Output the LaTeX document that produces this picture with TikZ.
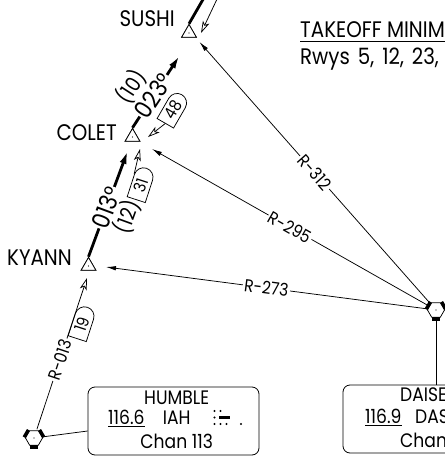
\documentclass[tikz,border=0pt]{standalone}
\usepackage{fontspec}
\setmainfont{Poppins}[FakeStretch=0.88]
\usetikzlibrary{shapes.geometric,shapes.misc,arrows.meta}
\newcommand\fFix{\fontsize{22.5}{23}\selectfont}
\newcommand\fCrs{\fontsize{24.5}{25}\selectfont}
\newcommand\fDst{\fontsize{21}{22}\selectfont}
\newcommand\fRad{\fontsize{17.5}{18}\selectfont}
\newcommand\fDme{\fontsize{16.5}{17}\selectfont}
\newcommand\fBox{\fontsize{19.5}{20}\selectfont}
\begin{document}
\begin{tikzpicture}[x=1pt,y=-1pt,
  thinln/.style={line width=0.75pt},
  boldln/.style={line width=2.8pt},
  fixpt/.style={regular polygon, regular polygon sides=3, draw, line width=0.75pt, fill=white, minimum size=17pt, inner sep=0pt},
  fixlbl/.style={font=\fFix, inner sep=0pt, anchor=east},
  radarr/.style={thinln, -{Latex[length=10pt,width=4.5pt]}},
  openarr/.style={thinln, -{Stealth[open,length=12pt,width=7pt,inset=3pt]}},
  boldarr/.style={boldln, -{Latex[length=14pt,width=7pt]}},
  rlabel/.style={font=\fRad, fill=white, inner sep=1.5pt, sloped},
  crs/.style={font=\fCrs, fill=white, inner sep=1pt, sloped},
  dst/.style={font=\fDst, inner sep=0pt},
  dme/.style={draw, line width=0.75pt, rounded rectangle, rounded rectangle west arc=none, minimum height=19pt, minimum width=35pt, inner sep=1pt, font=\fDme, fill=white},
  vorlink/.style={circle, minimum size=18pt, inner sep=0pt},
  vbox/.style={draw, line width=0.8pt, rounded corners=7pt, inner sep=0pt},
  btxt/.style={font=\fBox, inner sep=0pt},
  vortac/.pic={
    \filldraw[fill=white, line width=0.75pt] (0:8.5pt) -- (60:8.5pt) -- (120:8.5pt) -- (180:8.5pt) -- (240:8.5pt) -- (300:8.5pt) -- cycle;
    \foreach \a in {30,150,270}{\fill[rotate=\a] (7.36pt,-4.25pt) rectangle (10.6pt,4.25pt);}
    \fill (0pt,0pt) circle (0.6pt);
  }
]
\useasboundingbox (0,0) rectangle (445,456);

% navaid boxes
\node[vbox, minimum width=171pt, minimum height=68pt] (humbox) at (173.5,421) {};
\node[vbox, minimum width=198pt, minimum height=68pt] (daibox) at (442,419) {};
\node[vorlink] (humvor) at (34,438) {};
\node[vorlink] (daivor) at (436,310) {};

% box texts
\node[btxt, anchor=base] (hname) at (176.7,404) {HUMBLE};
\node[btxt, anchor=base west] (hfreq) at (108,424.5) {116.6};
\node[btxt, anchor=base] (hid) at (176.7,424.5) {IAH};
\node[btxt, anchor=base] (hchan) at (176.7,448.5) {Chan 113};
\draw[line width=0.8pt] ([yshift=-2pt]hfreq.base west) -- ([yshift=-2pt]hfreq.base east);
\node[btxt, anchor=base west] (dname) at (400,401) {DAISETTA};
\node[btxt, anchor=base west] (dfreq) at (365,423.5) {116.9};
\node[btxt, anchor=base west] (did) at (415,423.5) {DAS};
\node[btxt, anchor=base west] (dchan) at (400,447.5) {Chan};
\draw[line width=0.8pt] ([yshift=-2pt]dfreq.base west) -- ([yshift=-2pt]dfreq.base east);

% morse IAH
\foreach \p in {(214.5,411),(220.5,411),(214.5,417.5),(214.5,424),(220.5,424),(226.5,424),(241,424)}
  \fill \p circle (1.2pt);
\fill (218.5,416.3) rectangle (230,418.8);

% takeoff minimums
\node[anchor=base west, inner sep=0pt, font=\fFix] (tko) at (300,37) {TAKEOFF MINIMUMS};
\draw[line width=0.9pt] ([yshift=-4pt]tko.base west) -- ([yshift=-4pt]tko.base east);
\node[anchor=base west, inner sep=0pt, font=\fFix] (rwys) at (300,64) {Rwys\hspace{8pt}5,\hspace{8pt}12,\hspace{8pt}23,};

% fixes
\coordinate (sTop) at (205,-4);
\coordinate (inTail) at (218,-3);
\coordinate (inTip) at (201,33);
\coordinate (t10) at (180,55);
\coordinate (t12) at (128,150);
\coordinate (t312) at (199.5,42);
\coordinate (t295) at (152,149);
\coordinate (t273) at (106,267);
\coordinate (t013) at (87,278);
\coordinate (t48) at (148,137);
\coordinate (t31) at (140,149);

\node[fixpt] (sushi) at (189,33) {};
\node[fixpt] (colet) at (132.5,137) {};
\node[fixpt] (kyann) at (88.5,266) {};
\node[fixlbl] (sushil) at (175,19) {SUSHI};
\node[fixlbl] (coletl) at (117,133) {COLET};
\node[fixlbl] (kyannl) at (72,257.5) {KYANN};

% route
\draw[boldln] (sushi.north) -- (sTop);
\draw[openarr] (inTail) -- (inTip);
\draw[boldarr] (colet.north) -- node[crs, pos=0.44] {023°} (t10);
\draw[boldarr] (kyann.north) -- node[crs, pos=0.46] {013°} (t12);
\node[dst, rotate=57] (d10) at (131,86.5) {(10)};
\node[dst, rotate=70] (d12) at (127,217) {(12)};

% mileage flags
\node[dme, rotate=60] (b48) at (173,110) {48};
\node[dme, rotate=72] (b31) at (141,185) {31};
\node[dme, rotate=72] (b19) at (82,324) {19};
\draw[openarr] (b48.west) -- (t48);
\draw[openarr] (b31.north east) -- (t31);

% radials
\draw[radarr] (daivor) -- node[rlabel, pos=0.5] {R-312} (t312);
\draw[radarr] (daivor) -- node[rlabel, pos=0.5] {R-295} (t295);
\draw[radarr] (daivor) -- node[rlabel, pos=0.5] {R-273} (t273);
\draw[openarr] (humvor) -- node[rlabel, pos=0.46] {R-013} (t013);
\draw[thinln] (humvor) -- ([yshift=-10pt]humbox.west);
\draw[thinln] (daivor) -- (daivor |- daibox.north);

% redraw fixes on top
\node[fixpt] at (sushi) {};
\node[fixpt] at (colet) {};
\node[fixpt] at (kyann) {};
\foreach \n in {sushi,colet,kyann} \fill (\n.center) circle (0.7pt);

\pic at (humvor.center) {vortac};
\pic at (daivor.center) {vortac};
\end{tikzpicture}
\end{document}
